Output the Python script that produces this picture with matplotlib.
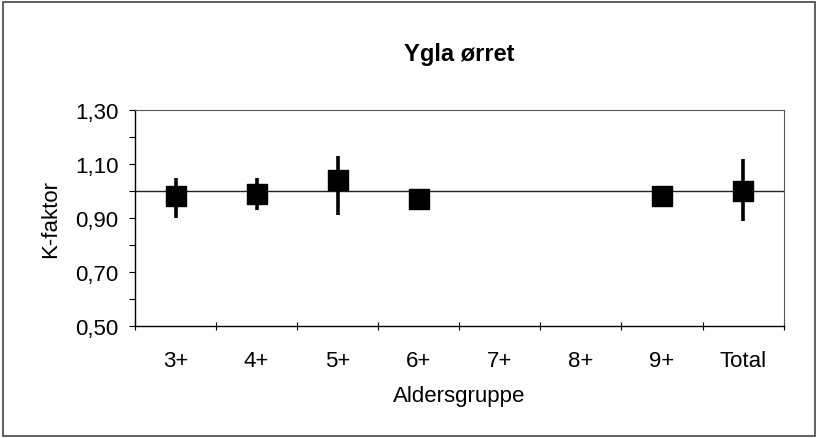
import matplotlib
matplotlib.use("Agg")
import matplotlib.pyplot as plt
from matplotlib.patches import Rectangle
from matplotlib.ticker import FuncFormatter, FixedLocator

plt.rcParams['font.family'] = ['Liberation Sans', 'DejaVu Sans']

# K-faktor per aldersgruppe (mean with lower/upper error)
groups = ['3+', '4+', '5+', '6+', '7+', '8+', '9+', 'Total']
k_mean = [0.98, 0.99, 1.04, 0.97, None, None, 0.98, 1.00]
err_low = [0.08, 0.06, 0.13, 0.0, None, None, 0.0, 0.11]
err_high = [0.07, 0.06, 0.09, 0.0, None, None, 0.0, 0.12]
ref_level = 1.00
y_major = [0.50, 0.70, 0.90, 1.10, 1.30]
y_minor = [0.60, 0.80, 1.00, 1.20]

fig = plt.figure(figsize=(8.18, 4.39), dpi=100)
ax = fig.add_axes([0.165, 0.255, 0.793, 0.492])

xs = [i for i, v in enumerate(k_mean) if v is not None]
ys = [k_mean[i] for i in xs]
lo = [err_low[i] for i in xs]
hi = [err_high[i] for i in xs]

ax.axhline(ref_level, color='#222222', lw=1.0, zorder=1)
ax.errorbar(xs, ys, yerr=[lo, hi], fmt='none', ecolor='black',
            elinewidth=2.6, capsize=0, zorder=2)
ax.scatter(xs, ys, marker='s', s=200, color='black', zorder=3)

ax.set_xlim(-0.5, len(groups) - 0.5)
ax.set_ylim(0.50, 1.30)
ax.set_xticks(range(len(groups)))
ax.set_xticklabels(groups, fontsize=16)
ax.xaxis.set_minor_locator(FixedLocator([i + 0.5 for i in range(-1, len(groups))]))
ax.tick_params(axis='x', which='major', length=0, pad=17)
ax.tick_params(axis='x', which='minor', direction='inout', length=6, width=0.8)

ax.yaxis.set_major_locator(FixedLocator(y_major))
ax.yaxis.set_minor_locator(FixedLocator(y_minor))
ax.yaxis.set_major_formatter(FuncFormatter(lambda v, p: f"{v:.2f}".replace('.', ',')))
ax.tick_params(axis='y', which='both', direction='out', length=4, width=0.8, labelsize=16, pad=8)

for side in ['top', 'right']:
    ax.spines[side].set_color('#555555')
    ax.spines[side].set_linewidth(0.8)
for side in ['left', 'bottom']:
    ax.spines[side].set_linewidth(1.0)

ax.set_title('Ygla ørret', fontsize=17, fontweight='bold', pad=36)
ax.set_ylabel('K-faktor', fontsize=16, labelpad=10)
ax.set_xlabel('Aldersgruppe', fontsize=16, labelpad=10)

# outer frame
fig.patches.append(Rectangle((0.004, 0.004), 0.992, 0.99, transform=fig.transFigure,
                             fill=False, edgecolor='#444444', lw=1.2))

fig.savefig('out.png', dpi=100)
